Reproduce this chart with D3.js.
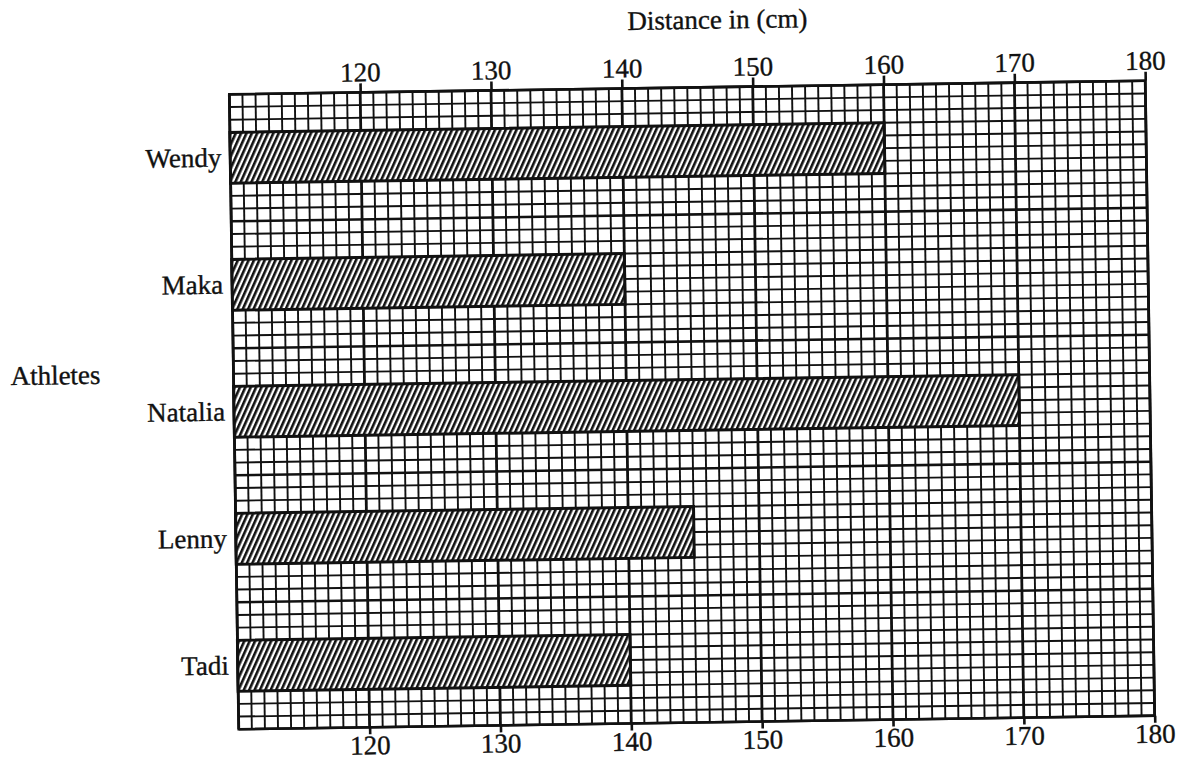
<!DOCTYPE html>
<html>
<head>
<meta charset="utf-8">
<script src="https://cdn.jsdelivr.net/npm/d3@7"></script>
<style>
  html, body { margin: 0; padding: 0; background: #fff; }
  svg { display: block; }
  text { font-family: "Liberation Serif", "Times New Roman", serif; fill: #111; stroke: #111; stroke-width: 0.35px; }
</style>
</head>
<body>
<svg id="chart" width="1182" height="763"></svg>
<script>
// ---- data ----
const athletes = ["Wendy", "Maka", "Natalia", "Lenny", "Tadi"];
const distances = [160, 140, 170, 145, 140];
const tickValues = [120, 130, 140, 150, 160, 170, 180];
const xDomain = [110, 180];
const titleText = "Distance in (cm)";
const yTitle = "Athletes";

// ---- layout ----
const gx0 = 234, gx1 = 1150, gy0 = 87.5, gy1 = 722.5;
const rows = 50;
const ink = "#111";

const svg = d3.select("#chart");
const defs = svg.append("defs");
const pat = defs.append("pattern")
  .attr("id", "hatch")
  .attr("patternUnits", "userSpaceOnUse")
  .attr("width", 4.9).attr("height", 10)
  .attr("patternTransform", "rotate(25)");
pat.append("rect").attr("width", 4.9).attr("height", 10).attr("fill", "#fff");
pat.append("line").attr("x1", 1.3).attr("x2", 1.3).attr("y1", 0).attr("y2", 10)
  .attr("stroke", ink).attr("stroke-width", 2.6);

const g = svg.append("g")
  .attr("transform", `rotate(-0.85, ${(gx0+gx1)/2}, ${(gy0+gy1)/2})`);

const x = d3.scaleLinear().domain(xDomain).range([gx0, gx1]);
const yRow = d3.scaleLinear().domain([0, rows]).range([gy0, gy1]);
const y = d3.scaleBand().domain(athletes).range([gy0, gy1])
  .paddingInner(0.6).paddingOuter(0.3);

// ---- grid ----
const minorX = d3.range(xDomain[0], xDomain[1] + 1, 1);
g.append("g").selectAll("line").data(minorX).join("line")
  .attr("x1", d => x(d)).attr("x2", d => x(d))
  .attr("y1", gy0).attr("y2", gy1)
  .attr("stroke", ink)
  .attr("stroke-width", d => (d % 10 === 0) ? 2.8 : 1.9);

const minorY = d3.range(0, rows + 1);
g.append("g").selectAll("line").data(minorY).join("line")
  .attr("x1", gx0).attr("x2", gx1)
  .attr("y1", d => yRow(d)).attr("y2", d => yRow(d))
  .attr("stroke", ink)
  .attr("stroke-width", d => (d % 10 === 0) ? 2.6 : 1.9);

g.append("rect")
  .attr("x", gx0).attr("y", gy0)
  .attr("width", gx1 - gx0).attr("height", gy1 - gy0)
  .attr("fill", "none").attr("stroke", ink).attr("stroke-width", 2.6);

// ---- bars ----
g.append("g").selectAll("rect").data(athletes).join("rect")
  .attr("x", x(xDomain[0]))
  .attr("y", d => y(d))
  .attr("width", (d, i) => x(distances[i]) - x(xDomain[0]))
  .attr("height", y.bandwidth())
  .attr("fill", "url(#hatch)")
  .attr("stroke", ink).attr("stroke-width", 3);

// ---- axes ----
const topAxis = d3.axisTop(x).tickValues(tickValues).tickSize(9).tickPadding(2)
  .tickFormat(d3.format("d"));
const botAxis = d3.axisBottom(x).tickValues(tickValues).tickSize(7).tickPadding(1)
  .tickFormat(d3.format("d"));

const ta = g.append("g").attr("transform", `translate(0,${gy0})`).call(topAxis);
const ba = g.append("g").attr("transform", `translate(0,${gy1})`).call(botAxis);
[ta, ba].forEach(a => {
  a.select(".domain").remove();
  a.selectAll(".tick line").attr("stroke", ink).attr("stroke-width", 2.6);
  a.selectAll(".tick text")
    .attr("font-family", "'Liberation Serif', serif")
    .attr("font-size", 27).attr("fill", ink);
});

// category labels
const leftAxis = d3.axisLeft(y).tickSize(0).tickPadding(9);
const la = g.append("g").attr("transform", `translate(${gx0},0)`).call(leftAxis);
la.select(".domain").remove();
la.selectAll(".tick text")
  .attr("font-family", "'Liberation Serif', serif")
  .attr("font-size", 27).attr("fill", ink);

// titles
g.append("text")
  .attr("x", 723).attr("y", 29)
  .attr("text-anchor", "middle")
  .attr("font-size", 27)
  .text(titleText);

g.append("text")
  .attr("x", 11).attr("y", 375)
  .attr("font-size", 27)
  .text(yTitle);
</script>
</body>
</html>
